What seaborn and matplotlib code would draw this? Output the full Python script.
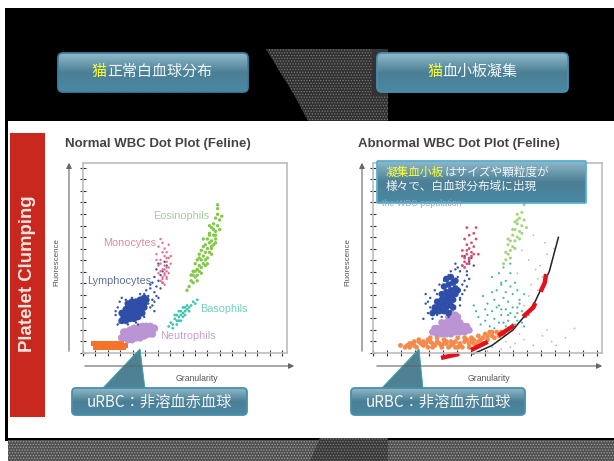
import matplotlib
matplotlib.use('Agg')
import matplotlib.pyplot as plt
from matplotlib.colors import LinearSegmentedColormap
from matplotlib.patches import FancyBboxPatch, Polygon, Rectangle
import numpy as np
import pandas as pd
import seaborn as sns

# values, axes run 0-100 both ways
tick_pos_x = [0, 6.1, 12.2, 18.3, 24.4, 30.5, 36.6, 42.7, 48.8, 54.9, 61, 67.1, 73.2, 79.3, 85.4, 91.5, 97.6]
tick_pos_y = [0, 6.1, 12.2, 18.3, 24.4, 30.5, 36.6, 42.7, 48.8, 54.9, 61, 67.1, 73.2, 79.3, 85.4, 91.5, 97.6]

# left plot
l_orange_x = [6, 8, 10, 12, 14, 16, 18, 20, 5, 7, 9, 11, 13, 15, 17, 19, 6, 10, 14, 18, 21]
l_orange_y = [3, 3, 3, 3, 3, 3, 3, 3, 5, 5, 5, 5, 5, 5, 5, 5, 4, 4, 4, 4, 4]
l_purple_x = [19, 20, 21, 22, 23, 24, 25, 26, 27, 28, 29, 30, 31, 32, 33, 34, 35, 21, 23, 25, 27, 29, 31, 33, 22, 24, 26, 28, 30, 32, 34, 20]
l_purple_y = [8, 9, 8, 10, 9, 11, 9, 11, 10, 12, 10, 12, 11, 13, 11, 13, 13, 11, 12, 13, 13, 14, 14, 14, 7, 7, 8, 8, 9, 10, 10, 11]
l_blue_core_x = [19, 20, 21, 22, 23, 24, 25, 26, 27, 28, 29, 30, 20, 22, 24, 26, 28, 30, 21, 23, 25, 27, 29, 31, 22, 24, 26, 28, 30, 19, 21, 23, 25, 27, 29]
l_blue_core_y = [17, 19, 17, 19, 18, 20, 18, 21, 19, 22, 21, 24, 21, 22, 22, 24, 24, 26, 23, 24, 25, 26, 27, 28, 26, 27, 27, 28, 29, 21, 20, 20, 21, 22, 24]
l_blue_x = [16, 17, 18, 17, 19, 16, 18, 22, 26, 30, 33, 32, 34, 33, 35, 34, 36, 35, 37, 38, 36, 39, 37, 32, 40, 31, 35, 38, 36, 34, 33, 37, 39, 41, 30, 28, 24, 21, 27, 35]
l_blue_y = [20, 24, 27, 15, 29, 22, 16, 15, 16, 19, 24, 30, 28, 34, 32, 37, 35, 40, 38, 41, 44, 43, 47, 26, 48, 33, 27, 34, 30, 25, 36, 29, 37, 46, 31, 31, 29, 28, 15, 22]
l_pink_x = [38, 39, 40, 41, 39, 40, 38, 41, 42, 40, 39, 37, 38, 40, 42, 41, 43, 36, 37, 39, 41, 40, 38, 42, 39, 40, 41, 42, 38, 43, 40, 41, 39, 37, 36, 41]
l_pink_y = [38, 40, 41, 43, 44, 46, 47, 48, 50, 51, 53, 42, 49, 55, 45, 53, 47, 52, 56, 58, 40, 36, 60, 57, 39, 42, 45, 42, 43, 51, 44, 39, 37, 46, 49, 50]
l_green_x = [53, 54, 55, 56, 55, 57, 58, 57, 59, 60, 59, 61, 62, 61, 63, 62, 64, 63, 65, 64, 66, 65, 60, 58, 56, 66, 67, 66, 54, 52, 57, 63, 65, 67, 54, 56, 58, 60, 62, 64, 59, 61, 63, 65, 55, 57, 60, 62, 64, 56, 58, 61, 63, 53, 59, 62, 65, 66, 68, 51]
l_green_y = [38, 41, 43, 44, 47, 46, 49, 52, 51, 53, 56, 55, 58, 60, 59, 63, 62, 66, 64, 68, 67, 71, 49, 45, 41, 73, 70, 76, 37, 35, 50, 56, 60, 65, 43, 49, 54, 57, 53, 57, 47, 50, 55, 58, 40, 43, 46, 62, 65, 38, 42, 47, 52, 41, 60, 67, 62, 78, 72, 33]
l_teal_x = [43, 44, 45, 46, 47, 46, 48, 49, 48, 50, 51, 50, 52, 53, 54, 55, 47, 49, 45, 44, 46, 48, 50, 47, 51, 49, 52, 42, 56]
l_teal_y = [16, 15, 18, 17, 19, 20, 20, 21, 22, 22, 23, 24, 24, 25, 27, 26, 17, 19, 20, 13, 15, 17, 20, 22, 25, 24, 22, 14, 28]

# right plot
r_orange_x = [12, 14, 16, 18, 20, 22, 24, 26, 28, 30, 32, 34, 36, 38, 40, 42, 44, 46, 48, 50, 52, 54, 56, 16, 19, 22, 25, 28, 31, 34, 37, 40, 43, 46, 49, 52, 20, 24, 27, 30, 33, 36, 39, 42, 45, 17, 21, 23, 26, 29, 32, 35, 38, 41, 44, 47, 50, 53, 55, 15, 18, 25, 31, 37, 43, 48, 51, 57]
r_orange_y = [4, 3, 5, 4, 6, 4, 7, 5, 6, 4, 5, 4, 6, 4, 6, 5, 7, 6, 8, 9, 9, 11, 11, 3, 3, 6, 8, 8, 7, 6, 8, 8, 8, 9, 10, 11, 7, 3, 4, 3, 3, 3, 3, 3, 4, 5, 5, 5, 3, 5, 6, 5, 5, 7, 5, 7, 7, 8, 9, 4, 6, 6, 5, 3, 6, 5, 11, 10]
r_purple_x = [26, 28, 30, 32, 34, 36, 38, 40, 42, 28, 30, 32, 34, 36, 38, 40, 30, 32, 34, 36, 38, 33, 35, 37, 34, 27, 41, 29, 31, 33, 35, 37, 39, 31, 33, 35, 36]
r_purple_y = [11, 10, 10, 10, 10, 11, 11, 11, 12, 13, 13, 13, 13, 13, 14, 14, 16, 16, 16, 16, 16, 19, 18, 19, 21, 13, 14, 11, 11, 12, 12, 12, 12, 15, 14, 15, 20]
r_blue_core_x = [26, 27, 28, 29, 30, 31, 32, 33, 34, 35, 28, 30, 32, 34, 36, 27, 29, 31, 33, 35, 30, 32, 34, 36, 31, 33, 35, 37, 32, 34, 36]
r_blue_core_y = [21, 24, 22, 25, 23, 26, 24, 27, 25, 28, 27, 28, 29, 30, 31, 23, 22, 22, 21, 24, 31, 32, 33, 34, 35, 36, 37, 33, 39, 40, 38]
r_blue_x = [24, 25, 26, 25, 28, 24, 23, 22, 42, 40, 36, 34, 30, 38, 41, 37, 39, 38, 40, 39, 41, 27, 29, 31, 33, 37, 35, 39, 41, 43, 38, 40, 36, 34, 23, 28, 33, 38, 42, 44]
r_blue_y = [21, 24, 18, 29, 31, 27, 26, 18, 48, 51, 44, 22, 19, 29, 35, 40, 36, 43, 38, 46, 41, 33, 36, 38, 41, 45, 27, 31, 43, 50, 28, 33, 47, 43, 31, 20, 19, 25, 39, 46]
r_pink_x = [39, 40, 41, 42, 41, 43, 42, 44, 43, 41, 40, 45, 44, 39, 42, 46, 41, 40, 42, 41, 43, 39, 44, 40, 42, 45]
r_pink_y = [46, 48, 47, 50, 52, 53, 55, 56, 58, 57, 60, 60, 63, 54, 62, 52, 66, 50, 49, 54, 51, 51, 52, 45, 47, 66]
r_green_x = [58, 59, 60, 59, 61, 62, 61, 63, 62, 64, 63, 65, 64, 66, 65, 66, 60, 63, 67, 58, 60, 62, 64, 61, 63, 59, 65, 57, 62, 66]
r_green_y = [49, 52, 54, 57, 56, 59, 62, 61, 65, 64, 68, 67, 71, 70, 74, 78, 50, 73, 66, 53, 59, 55, 60, 65, 70, 60, 63, 47, 69, 82]
r_teal_x = [47, 49, 50, 52, 53, 55, 56, 58, 59, 60, 62, 63, 65, 50, 53, 55, 57, 59, 61, 64, 54, 56, 58, 60, 62, 52, 55, 48, 57, 60, 63, 58, 53, 66, 45, 62, 59, 61, 63, 65, 67, 57, 59, 61, 63, 66, 68, 51, 54, 56, 46, 49, 44, 52, 58, 64, 56, 60]
r_teal_y = [15, 17, 20, 22, 18, 16, 20, 23, 17, 21, 19, 24, 22, 26, 28, 25, 29, 27, 31, 28, 33, 36, 32, 35, 37, 40, 42, 30, 45, 47, 33, 14, 13, 31, 22, 15, 13, 15, 17, 16, 19, 16, 20, 24, 21, 14, 20, 14, 24, 23, 19, 23, 25, 32, 38, 26, 37, 42]
r_salmon_x = [66, 69, 71, 74, 76, 78, 68, 72, 75, 79, 70, 73, 62, 66, 70, 74, 78, 84, 88, 60, 64, 47, 52, 58, 68, 72, 65, 63, 76, 80, 56, 50]
r_salmon_y = [25, 36, 44, 40, 52, 47, 49, 33, 58, 55, 62, 46, 5, 7, 4, 9, 6, 8, 13, 3, 10, 4, 3, 6, 30, 39, 54, 42, 12, 4, 2, 1]

curve_x = [43.7, 52, 61, 70, 77, 81]
curve_y = [-0.5, 4, 12, 25, 43, 61]
dash_x = [29.7, 41, 52, 61, 70, 75, 76]
dash_y = [-2.6, 0.5, 7, 14, 24, 37, 45]

bg_top = '#8fb9c9'
bg_mid = '#4b7f95'
bg_bot = '#4a88a3'
button_cmap = LinearSegmentedColormap.from_list('btn', [bg_top, bg_mid, bg_bot])

sns.set_theme(style='white')
plt.rcParams['font.family'] = ['Noto Sans CJK JP', 'DejaVu Sans']
plt.rcParams['hatch.linewidth'] = 0.6
W, H = 614, 461
fig = plt.figure(figsize=(W / 100, H / 100), dpi=100, facecolor='white')


def overlay(z):
    ax = fig.add_axes([0, 0, 1, 1], zorder=z)
    ax.set_xlim(0, W)
    ax.set_ylim(H, 0)
    ax.axis('off')
    ax.patch.set_alpha(0)
    return ax


def button(ax, x0, y0, x1, y1, edge, rad=5):
    box = FancyBboxPatch((x0 + rad, y0 + rad), x1 - x0 - 2 * rad, y1 - y0 - 2 * rad,
                         boxstyle='round,pad=%d,rounding_size=%d' % (rad, rad),
                         facecolor='none', edgecolor=edge, lw=1.3, zorder=3)
    ax.add_patch(box)
    img = ax.imshow(np.linspace(0, 1, 64).reshape(-1, 1), cmap=button_cmap, aspect='auto',
                    extent=(x0, x1, y1, y0), zorder=2)
    img.set_clip_path(box)
    ax.set_xlim(0, W)
    ax.set_ylim(H, 0)


back = overlay(0)
back.add_patch(Rectangle((5, 8), W - 5, 113, color='black', lw=0))
back.add_patch(Rectangle((5, 121), 3, 320, color='black', lw=0))
back.add_patch(Rectangle((5, 438), W - 5, 3, color='black', lw=0))
back.add_patch(Polygon([(266, 49), (388, 49), (388, 121), (308, 121), (296, 98)],
                       facecolor='#303030', edgecolor='#7a7a7a', hatch='......', lw=0))
back.add_patch(Rectangle((372, 49), 16, 47, color='#333333', lw=0))
back.add_patch(Rectangle((8, 440), W - 8, 21, facecolor='#505050', edgecolor='#a0a0a0', hatch='......', lw=0))
back.add_patch(Polygon([(310, 461), (320, 438), (388, 438), (388, 461)], facecolor='#3a3a3a',
                       edgecolor='#777777', hatch='......', lw=0))

# red side panel
back.add_patch(Rectangle((10, 133), 35, 284, color='#c8281e', lw=0))
back.text(28, 274, 'Platelet Clumping', rotation=90, color='#f4e6e0', fontsize=13.4, fontweight='bold',
          family='Liberation Sans', ha='center', va='center')

button(back, 58, 53, 248, 92, '#3f7f9a')
button(back, 377, 53, 568, 92, '#4a8fae')
back.text(99, 72, '猫', color='#ffff33', fontsize=10.8, ha='center', va='center')
back.text(159.5, 72, '正常白血球分布', color='#f2f6f8', fontsize=10.8, ha='center', va='center')
back.text(434.5, 72, '猫', color='#ffff33', fontsize=10.8, ha='center', va='center')
back.text(479.5, 72, '血小板凝集', color='#f2f6f8', fontsize=10.8, ha='center', va='center')

back.text(65, 144, 'Normal WBC Dot Plot (Feline)', color='#444444', fontsize=9.5, fontweight='bold',
          family='Liberation Sans', va='center')
back.text(358, 144, 'Abnormal WBC Dot Plot (Feline)', color='#444444', fontsize=9.5, fontweight='bold',
          family='Liberation Sans', va='center')


def dots(ax, xs, ys, color, size, marker='o'):
    df = pd.DataFrame({'Granularity': xs, 'Fluorescence': ys})
    sns.scatterplot(data=df, x='Granularity', y='Fluorescence', color=color, s=size, marker=marker,
                    edgecolor='none', ax=ax, clip_on=False, legend=False)


def plot_axes(x0, x1):
    ax = fig.add_axes([x0 / W, 1 - 353 / H, (x1 - x0) / W, 190 / H], zorder=1)
    ax.patch.set_alpha(0)
    ax.set_xlim(0, 100)
    ax.set_ylim(0, 100)
    return ax


def finish_axes(ax):
    ax.set_xticks(tick_pos_x)
    ax.set_yticks(tick_pos_y)
    ax.set_xticklabels([])
    ax.set_yticklabels([])
    ax.set_xlabel('')
    ax.set_ylabel('')
    ax.tick_params(axis='both', direction='inout', length=4, width=0.8, color='#333333',
                   bottom=True, left=True)
    for side in ax.spines.values():
        side.set_color('#bcbcbc')
        side.set_linewidth(1.2)


left = plot_axes(83, 287)
dots(left, l_orange_x, l_orange_y, '#f5722a', 14, marker='s')
dots(left, l_purple_x, l_purple_y, '#bb95d3', 30)
dots(left, l_blue_core_x, l_blue_core_y, '#2f4ea8', 24)
dots(left, l_blue_x, l_blue_y, '#3553a8', 3)
dots(left, l_pink_x, l_pink_y, '#e66f8c', 3)
dots(left, l_green_x, l_green_y, '#86c84e', 6)
dots(left, l_teal_x, l_teal_y, '#3fc6b0', 4)
finish_axes(left)

right = plot_axes(373, 602)
dots(right, r_teal_x, r_teal_y, '#49b5a2', 2.5)
dots(right, r_salmon_x, r_salmon_y, '#d9a8a0', 1.5)
dots(right, r_orange_x, r_orange_y, '#f58a4b', 12)
dots(right, r_purple_x, r_purple_y, '#bb95d3', 26)
dots(right, r_blue_core_x, r_blue_core_y, '#2f4ea8', 22)
dots(right, r_blue_x, r_blue_y, '#3553a8', 3)
dots(right, r_pink_x, r_pink_y, '#d9506f', 4)
dots(right, r_green_x, r_green_y, '#a4d67e', 5)
sns.lineplot(x=curve_x, y=curve_y, color='#222222', lw=1.1, ax=right, clip_on=False, sort=False)
dash_line = sns.lineplot(x=dash_x, y=dash_y, color='#e4101e', lw=3.2, ax=right, clip_on=False, sort=False)
dash_line.lines[-1].set_dashes([4.2, 2.8])
finish_axes(right)

top = overlay(2)
# axis arrows
for y_x, x0, x1 in [(69, 82, 297), (362, 374, 605)]:
    top.annotate('', xy=(y_x, 160), xytext=(y_x, 354),
                 arrowprops=dict(arrowstyle='-|>', color='#666666', lw=0.8, mutation_scale=8))
    top.annotate('', xy=(x1, 366), xytext=(x0, 366),
                 arrowprops=dict(arrowstyle='-|>', color='#666666', lw=0.8, mutation_scale=8))

arial = 'Liberation Sans'
top.text(57, 262, 'Fluorescence', rotation=90, color='#555555', fontsize=5.8, family=arial, ha='center', va='center')
top.text(348, 262, 'Fluorescence', rotation=90, color='#555555', fontsize=5.8, family=arial, ha='center', va='center')
top.text(197, 378, 'Granularity', color='#555555', fontsize=6.2, family=arial, ha='center', va='center')
top.text(489, 378, 'Granularity', color='#555555', fontsize=6.2, family=arial, ha='center', va='center')

top.text(153, 216, 'Eosinophils', color='#a9c9a0', fontsize=7.8, family=arial, va='center')
top.text(103, 243, 'Monocytes', color='#dd8a9c', fontsize=7.8, family=arial, va='center')
top.text(87, 281, 'Lymphocytes', color='#5f6f9c', fontsize=7.8, family=arial, va='center')
top.text(200, 309, 'Basophils', color='#70cfc0', fontsize=7.8, family=arial, va='center')
top.text(160, 336, 'Neutrophils', color='#c9a0d2', fontsize=7.8, family=arial, va='center')
top.text(382, 203, 'the WBC population', color='#9aa4b4', fontsize=6.4, family=arial, va='center')

# callout on the right plot
button(top, 377, 161, 586, 203, '#55b0d0', rad=1)
top.text(386, 172, '凝集血小板', color='#ffff33', fontsize=8.4, va='center')
top.text(445, 172, 'はサイズや顆粒度が', color='#f2f6f8', fontsize=8.4, va='center')
top.text(386, 186, '様々で、白血球分布域に出現', color='#f2f6f8', fontsize=8.4, va='center')

# uRBC callouts with pointers
for x0, x1, p0, tip, p1, tx in [(72, 247, 102, (140, 349), 145, 159), (351, 525, 381, (419, 349), 423, 438)]:
    top.add_patch(Polygon([(p0, 389), tip, (p1, 389)], facecolor='#4f8194', edgecolor='#3fa3a8', lw=0.7, zorder=1.5))
    button(top, x0, 388, x1, 415, '#4a8ea8', rad=4)
    top.text(tx, 402, 'uRBC：非溶血赤血球', color='#f2f6f8', fontsize=11, ha='center', va='center', zorder=5)

fig.savefig('out.png', dpi=100)
plt.close(fig)
